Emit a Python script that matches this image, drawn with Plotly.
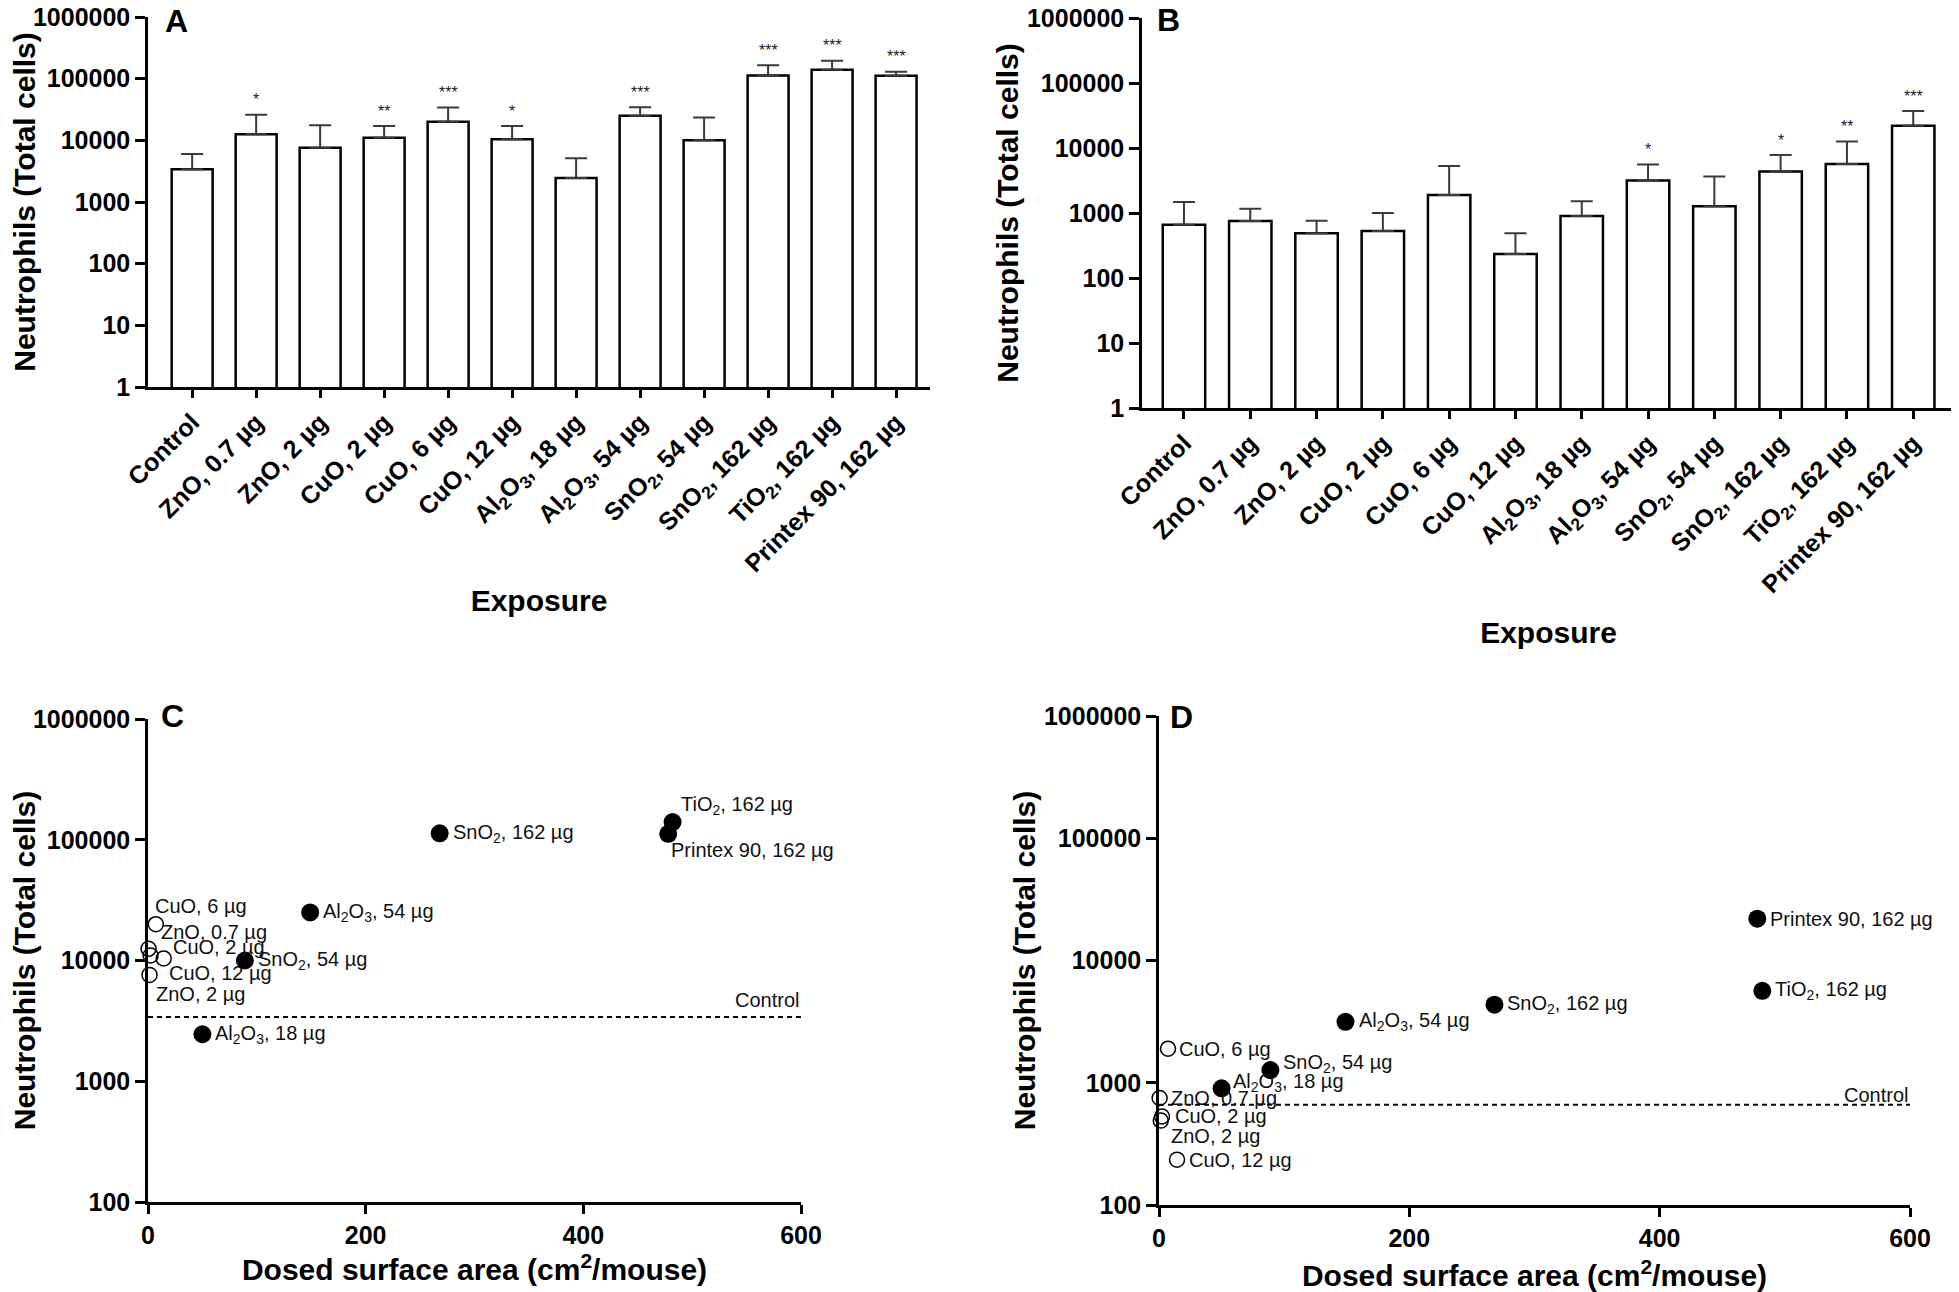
import math
import plotly.graph_objects as go

# ---------------- data ----------------
categories = ["Control", "ZnO, 0.7 µg", "ZnO, 2 µg", "CuO, 2 µg", "CuO, 6 µg", "CuO, 12 µg",
              "Al<sub>2</sub>O<sub>3</sub>, 18 µg", "Al<sub>2</sub>O<sub>3</sub>, 54 µg",
              "SnO<sub>2</sub>, 54 µg", "SnO<sub>2</sub>, 162 µg", "TiO<sub>2</sub>, 162 µg",
              "Printex 90, 162 µg"]

# Panel A (day 1)
a_mean = [3400, 12500, 7600, 11000, 20000, 10400, 2450, 25000, 10000, 113000, 140000, 112000]
a_sd = [2600, 13500, 9900, 6000, 14000, 6600, 2650, 9500, 13500, 52000, 55000, 18000]
a_sig = ["", "*", "", "**", "***", "*", "", "***", "", "***", "***", "***"]

# Panel B (day 28)
b_mean = [660, 750, 490, 530, 1900, 235, 900, 3150, 1270, 4350, 5650, 22000]
b_sd = [810, 415, 270, 470, 3400, 255, 620, 2410, 2370, 3450, 6950, 15000]
b_sig = ["", "", "", "", "", "", "", "*", "", "*", "**", "***"]

# Dosed surface area (cm2/mouse) for the exposures (all except Control)
surface_area = [0.5, 1.4, 2.4, 7.2, 14.4, 50, 149, 89, 268, 482, 478]

bar_ticks = [1, 10, 100, 1000, 10000, 100000, 1000000]
sc_yticks = [100, 1000, 10000, 100000, 1000000]
sc_xticks = [0, 200, 400, 600]

# ---------------- styles ----------------
FONT = "Liberation Sans, Arial, sans-serif"
BLACK = "#000000"

# label offsets (px) for scatter annotations, order = exposures
c_offsets = [(10, 17), (4, -19), (20, 9), (-3, 18), (3, -15), (11, 0), (11, 0), (11, 0),
             (11, 0), (6, 17), (1, -16)]
d_offsets = [(9, 0), (8, -15), (11, 0), (9, 0), (10, 0), (9, 6), (11, 0), (11, 7),
             (11, 0), (11, 0), (11, 0)]

W, H = 1959, 1292
OFF = 8  # page body margin of the html page


def xdom(a, b):
    return [(a - OFF) / W, (b - OFF) / W]


def ydom(top, bottom):
    return [1 - (bottom - OFF) / H, 1 - (top - OFF) / H]


fig = go.Figure()

axis_common = dict(showline=True, linecolor=BLACK, linewidth=2.5, ticks="outside",
                   tickcolor=BLACK, tickwidth=2.5, showgrid=False, zeroline=False,
                   automargin=False, ticklabeloverflow="allow")

# ---------------- bar panels ----------------
for (mean, sd, sig, xa, ya) in [(a_mean, a_sd, a_sig, "x", "y"),
                                (b_mean, b_sd, b_sig, "x2", "y2")]:
    fig.add_trace(go.Bar(
        x=list(range(len(categories))), y=mean, xaxis=xa, yaxis=ya, width=0.64,
        marker=dict(color="white", line=dict(color=BLACK, width=2.5)),
        error_y=dict(type="data", array=sd, arrayminus=[0] * len(sd), symmetric=False,
                     color="#3a3a3a", thickness=2, width=11),
        showlegend=False))
    for i, s in enumerate(sig):
        if s:
            fig.add_annotation(x=i, y=math.log10(mean[i] + sd[i]), xref=xa, yref=ya,
                               text=s, showarrow=False, yshift=15,
                               font=dict(family=FONT, size=16, color="#222"))

# ---------------- scatter panels ----------------
exp_labels = categories[1:]
for (mean, offs, xa, ya, ctrl_shift) in [(a_mean, c_offsets, "x3", "y3", 17),
                                         (b_mean, d_offsets, "x4", "y4", 10)]:
    vals = mean[1:]
    open_idx = [i for i, c in enumerate(exp_labels) if c.startswith(("ZnO", "CuO"))]
    fill_idx = [i for i in range(len(exp_labels)) if i not in open_idx]
    fig.add_trace(go.Scatter(
        x=[0, 600], y=[mean[0], mean[0]], xaxis=xa, yaxis=ya, mode="lines",
        line=dict(color=BLACK, width=2, dash="5px,4px"), showlegend=False, hoverinfo="skip"))
    fig.add_trace(go.Scatter(
        x=[surface_area[i] for i in open_idx], y=[vals[i] for i in open_idx],
        xaxis=xa, yaxis=ya, mode="markers", cliponaxis=False,
        marker=dict(symbol="circle-open", size=15, color=BLACK, line=dict(width=1.5, color=BLACK)),
        showlegend=False))
    fig.add_trace(go.Scatter(
        x=[surface_area[i] for i in fill_idx], y=[vals[i] for i in fill_idx],
        xaxis=xa, yaxis=ya, mode="markers", cliponaxis=False,
        marker=dict(symbol="circle", size=18, color=BLACK), showlegend=False))
    for i, lab in enumerate(exp_labels):
        dx, dy = offs[i]
        fig.add_annotation(x=surface_area[i], y=math.log10(vals[i]), xref=xa, yref=ya,
                           text=lab, showarrow=False, xanchor="left", yanchor="middle",
                           xshift=dx, yshift=dy,
                           font=dict(family=FONT, size=20, color="#111"))
    fig.add_annotation(x=600, y=math.log10(mean[0]), xref=xa, yref=ya, text="Control",
                       showarrow=False, xanchor="right", yanchor="middle", yshift=ctrl_shift,
                       font=dict(family=FONT, size=20, color="#111"))

tickfont = dict(family=FONT, size=25, color=BLACK, weight="bold")
catfont = dict(family=FONT, size=25, color=BLACK, weight="bold")
titlefont = dict(family=FONT, size=30, color=BLACK, weight="bold")

ytitle = "Neutrophils (Total cells)"
ytick_common = dict(ticklen=10, tickfont=tickfont, ticklabelstandoff=0, type="log",
                    tickmode="array")

fig.update_layout(
    width=W, height=H, margin=dict(l=0, r=0, t=0, b=0),
    paper_bgcolor="white", plot_bgcolor="white", showlegend=False,
    xaxis=dict(axis_common, domain=xdom(148, 930), range=[-0.69, 11.53],
               tickmode="array", tickvals=list(range(len(categories))), ticktext=categories,
               tickangle=-45, ticklen=8, tickfont=catfont, anchor="y",
               title=dict(text="Exposure", font=titlefont, standoff=14)),
    yaxis=dict(axis_common, **ytick_common, domain=ydom(17, 387), range=[0, 6],
               tickvals=bar_ticks, ticktext=[str(v) for v in bar_ticks], anchor="x",
               title=dict(text=ytitle, font=titlefont, standoff=0)),
    xaxis2=dict(axis_common, domain=xdom(1142, 1955), range=[-0.633, 11.63],
                tickmode="array", tickvals=list(range(len(categories))), ticktext=categories,
                tickangle=-45, ticklen=8, tickfont=catfont, anchor="y2",
                title=dict(text="Exposure", font=titlefont, standoff=25)),
    yaxis2=dict(axis_common, **ytick_common, domain=ydom(18, 408), range=[0, 6],
                tickvals=bar_ticks, ticktext=[str(v) for v in bar_ticks], anchor="x2",
                title=dict(text=ytitle, font=titlefont, standoff=0)),
    xaxis3=dict(axis_common, domain=xdom(148, 801), range=[0, 600],
                tickmode="array", tickvals=sc_xticks, ticklen=9, tickfont=tickfont,
                anchor="y3",
                title=dict(text="Dosed surface area (cm<sup>2</sup>/mouse)", font=titlefont,
                           standoff=10)),
    yaxis3=dict(axis_common, **ytick_common, domain=ydom(719, 1202), range=[2, 6],
                tickvals=sc_yticks, ticktext=[str(v) for v in sc_yticks], anchor="x3",
                title=dict(text=ytitle, font=titlefont, standoff=0)),
    xaxis4=dict(axis_common, domain=xdom(1159, 1910), range=[0, 600],
                tickmode="array", tickvals=sc_xticks, ticklen=9, tickfont=tickfont,
                anchor="y4",
                title=dict(text="Dosed surface area (cm<sup>2</sup>/mouse)", font=titlefont,
                           standoff=15)),
    yaxis4=dict(axis_common, **ytick_common, domain=ydom(716, 1205), range=[2, 6],
                tickvals=sc_yticks, ticktext=[str(v) for v in sc_yticks], anchor="x4",
                title=dict(text=ytitle, font=titlefont, standoff=0)),
)

# panel letters
for letter, xpx, ypx in [("A", 163, 21), ("B", 1155, 20), ("C", 159, 716), ("D", 1168, 717)]:
    fig.add_annotation(x=(xpx - OFF) / W, y=1 - (ypx - OFF) / H, xref="paper", yref="paper",
                       text=letter, showarrow=False, xanchor="left", yanchor="middle",
                       font=dict(family=FONT, size=32, color=BLACK, weight="bold"))

fig.write_html("out.html")
